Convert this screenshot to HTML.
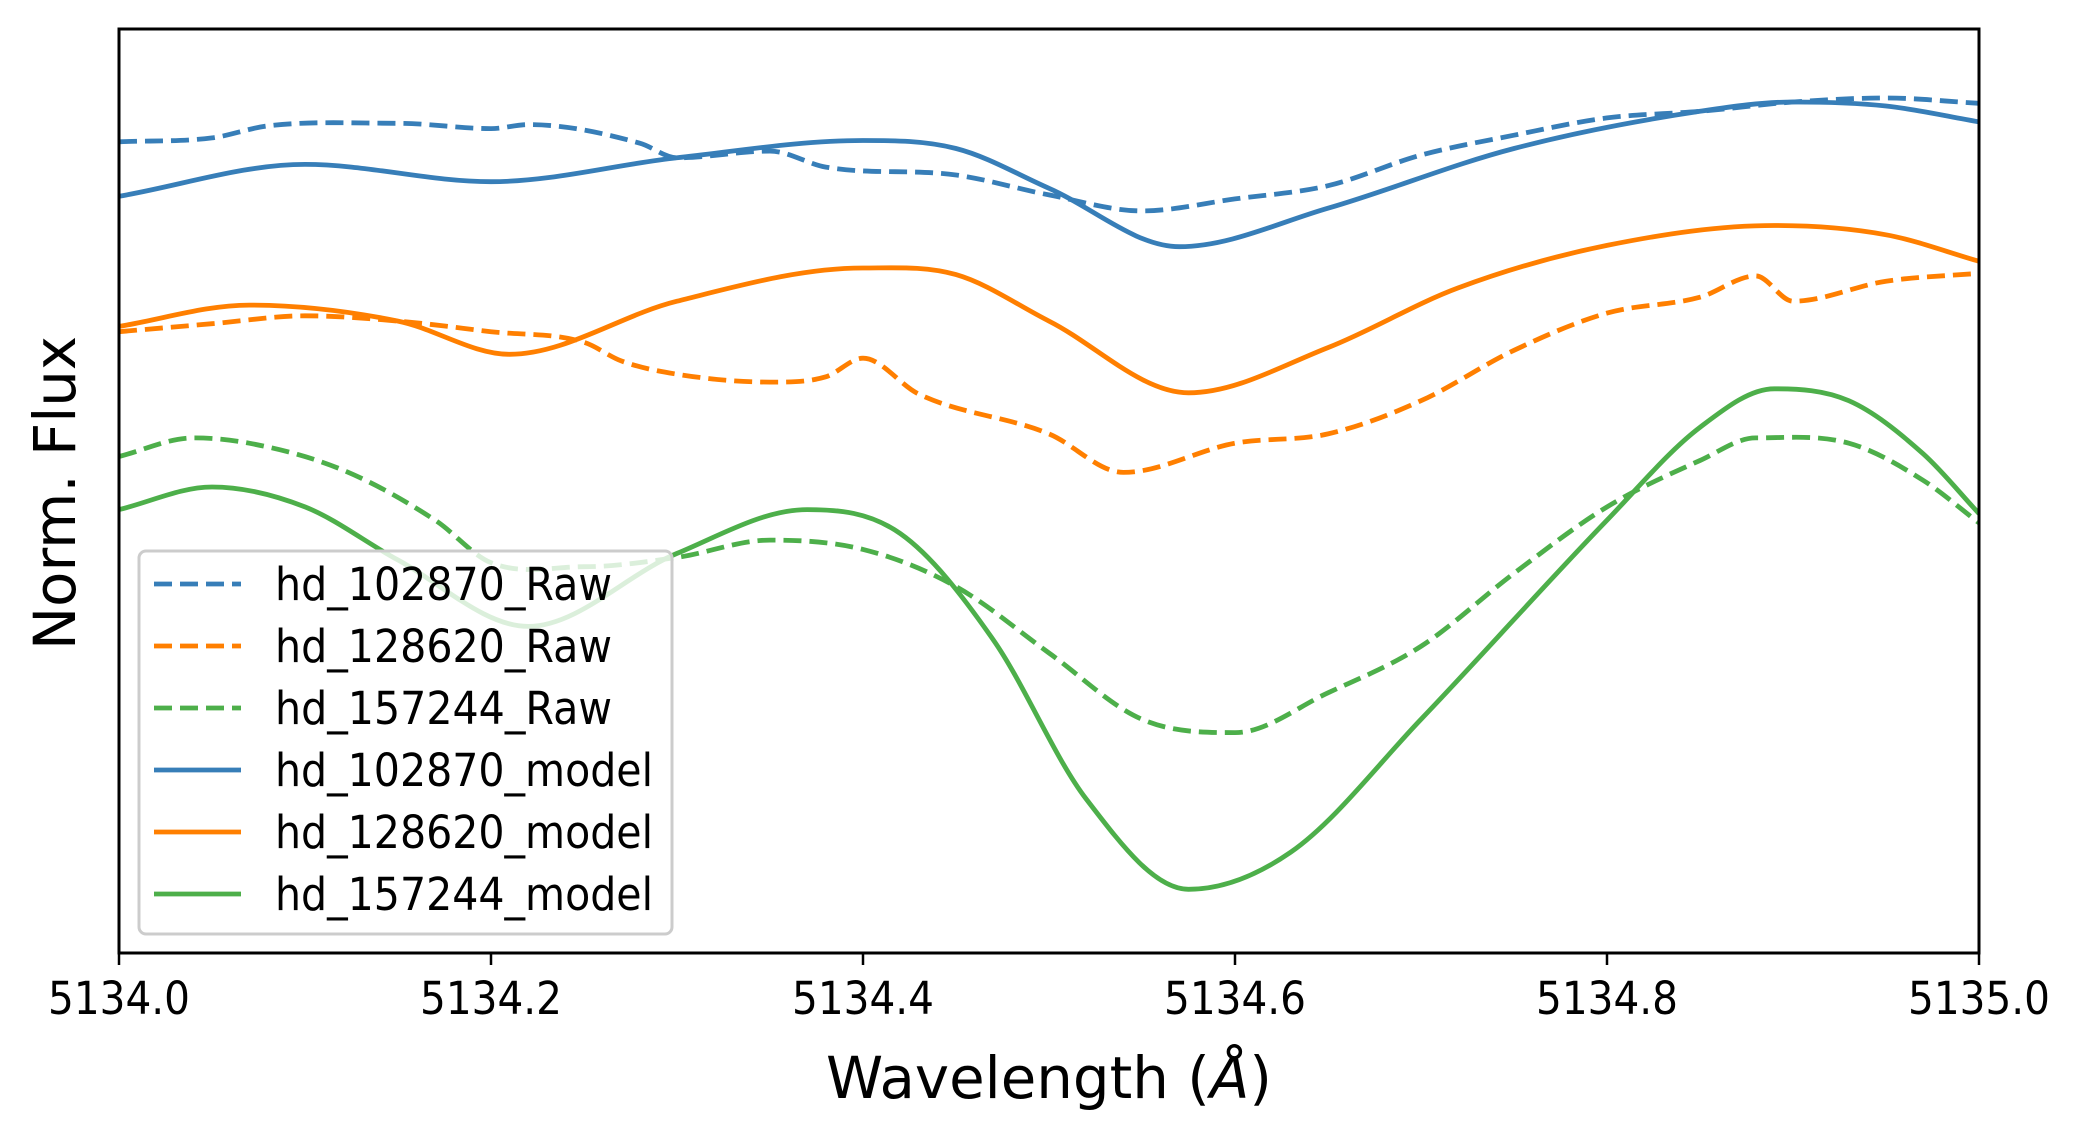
<!DOCTYPE html>
<html><head><meta charset="utf-8"><style>
html,body{margin:0;padding:0;background:#fff;}
svg{display:block;}
text{font-family:"DejaVu Sans","Liberation Sans",sans-serif;fill:#000;}
</style></head>
<body>
<svg id="chart" width="2081" height="1140" viewBox="0 0 2081 1140" xmlns="http://www.w3.org/2000/svg">
<rect x="0" y="0" width="2081" height="1140" fill="#fff"/>
<g id="series"></g>
<g id="legend"></g>
<g id="axes"></g>
</svg>
<script>
// ---- data ----
const blueRawX = [5134.0,5134.05,5134.08,5134.15,5134.2,5134.22,5134.28,5134.3,5134.35,5134.38,5134.45,5134.5,5134.55,5134.6,5134.65,5134.7,5134.75,5134.8,5134.85,5134.9,5134.95,5135.0];
const blueRawY = [6.11,6.14,6.23,6.25,6.21,6.24,6.10,5.99,6.04,5.92,5.86,5.71,5.59,5.68,5.78,6.01,6.16,6.29,6.34,6.41,6.44,6.40];
const blueModelX = [5134.0,5134.1,5134.2,5134.3,5134.4,5134.45,5134.5,5134.57,5134.65,5134.75,5134.85,5134.9,5134.95,5135.0];
const blueModelY = [5.70,5.94,5.81,5.99,6.12,6.06,5.76,5.32,5.61,6.06,6.34,6.41,6.38,6.26];
const orangeRawX = [5134.0,5134.05,5134.1,5134.15,5134.2,5134.25,5134.27,5134.3,5134.35,5134.38,5134.4,5134.43,5134.5,5134.54,5134.6,5134.65,5134.7,5134.75,5134.8,5134.85,5134.88,5134.9,5134.95,5135.0];
const orangeRawY = [4.68,4.74,4.80,4.76,4.68,4.60,4.46,4.36,4.30,4.34,4.48,4.21,3.91,3.62,3.84,3.91,4.16,4.54,4.82,4.94,5.10,4.91,5.06,5.12];
const orangeModelX = [5134.0,5134.07,5134.15,5134.21,5134.3,5134.4,5134.45,5134.5,5134.575,5134.65,5134.72,5134.8,5134.89,5134.95,5135.0];
const orangeModelY = [4.72,4.88,4.76,4.51,4.91,5.16,5.11,4.76,4.22,4.56,5.01,5.33,5.48,5.41,5.21];
const greenRawX = [5134.0,5134.04,5134.07,5134.12,5134.17,5134.2,5134.25,5134.3,5134.35,5134.4,5134.45,5134.5,5134.55,5134.6,5134.65,5134.7,5134.75,5134.8,5134.85,5134.88,5134.93,5134.97,5135.0];
const greenRawY = [3.74,3.88,3.84,3.64,3.26,2.94,2.91,2.98,3.11,3.04,2.76,2.26,1.76,1.66,1.96,2.31,2.86,3.36,3.71,3.88,3.84,3.56,3.24];
const greenModelX = [5134.0,5134.05,5134.1,5134.15,5134.22,5134.3,5134.37,5134.42,5134.47,5134.52,5134.575,5134.63,5134.7,5134.8,5134.85,5134.89,5134.93,5134.97,5135.0];
const greenModelY = [3.34,3.51,3.36,2.96,2.46,3.01,3.34,3.16,2.36,1.16,0.48,0.76,1.76,3.26,3.96,4.25,4.16,3.76,3.31];
const xTicks = [5134.0,5134.2,5134.4,5134.6,5134.8,5135.0];
const xTickLabels = ["5134.0","5134.2","5134.4","5134.6","5134.8","5135.0"];
const legendLabels = ["hd_102870_Raw","hd_128620_Raw","hd_157244_Raw","hd_102870_model","hd_128620_model","hd_157244_model"];

// ---- layout ----
const L=119,R=1979,T=29,B=953;
const xMin=5134.0,xMax=5135.0,yMin=0,yMax=6.96;
const xs=v=>L+(v-xMin)/(xMax-xMin)*(R-L);
const ys=v=>B-(v-yMin)/(yMax-yMin)*(B-T);
const NS="http://www.w3.org/2000/svg";
const C={blue:"#377eb8",orange:"#ff7f00",green:"#4daf4a"};
function mk(tag,attrs,parent){const e=document.createElementNS(NS,tag);for(const k in attrs)e.setAttribute(k,attrs[k]);parent.appendChild(e);return e;}
function smoothPath(X,Y){
  const p=X.map((x,i)=>[xs(x),ys(Y[i])]);
  const n=p.length;
  // monotone-ish tangents based on neighbouring secants (Fritsch-Carlson style)
  const m=new Array(n);
  for(let i=0;i<n;i++){
    if(i===0)m[i]=(p[1][1]-p[0][1])/(p[1][0]-p[0][0]);
    else if(i===n-1)m[i]=(p[i][1]-p[i-1][1])/(p[i][0]-p[i-1][0]);
    else{
      const s0=(p[i][1]-p[i-1][1])/(p[i][0]-p[i-1][0]);
      const s1=(p[i+1][1]-p[i][1])/(p[i+1][0]-p[i][0]);
      m[i]=(s0*s1<=0)?0:(s0+s1)/2;
    }
  }
  let d="M"+p[0][0].toFixed(1)+","+p[0][1].toFixed(1);
  for(let i=0;i<n-1;i++){
    const h=(p[i+1][0]-p[i][0])/3;
    d+="C"+(p[i][0]+h).toFixed(1)+","+(p[i][1]+m[i]*h).toFixed(1)+" "+(p[i+1][0]-h).toFixed(1)+","+(p[i+1][1]-m[i+1]*h).toFixed(1)+" "+p[i+1][0].toFixed(1)+","+p[i+1][1].toFixed(1);
  }
  return d;
}
const svg=document.getElementById("chart");
const gS=document.getElementById("series");
const defs=mk("defs",{},svg);
const cp=mk("clipPath",{id:"clip"},defs);
mk("rect",{x:L,y:T,width:R-L,height:B-T},cp);
gS.setAttribute("clip-path","url(#clip)");
const dash="18 8";
const SW=4.8;
let e;
e=mk("path",{d:smoothPath(blueRawX,blueRawY),fill:"none",stroke:C.blue,"stroke-width":SW,"stroke-dasharray":dash},gS);


e=mk("path",{d:smoothPath(orangeRawX,orangeRawY),fill:"none",stroke:C.orange,"stroke-width":SW,"stroke-dasharray":dash},gS);


e=mk("path",{d:smoothPath(greenRawX,greenRawY),fill:"none",stroke:C.green,"stroke-width":SW,"stroke-dasharray":dash},gS);


e=mk("path",{d:smoothPath(blueModelX,blueModelY),fill:"none",stroke:C.blue,"stroke-width":SW},gS);


e=mk("path",{d:smoothPath(orangeModelX,orangeModelY),fill:"none",stroke:C.orange,"stroke-width":SW},gS);


e=mk("path",{d:smoothPath(greenModelX,greenModelY),fill:"none",stroke:C.green,"stroke-width":SW},gS);



// legend
const gL=document.getElementById("legend");
e=mk("rect",{x:139,y:551,width:533,height:383,rx:7,fill:"rgba(255,255,255,0.8)",stroke:"#cccccc","stroke-width":3},gL);


const lColors=[C.blue,C.orange,C.green,C.blue,C.orange,C.green];
const rowY=[584,646,708,770,832,894];
legendLabels.forEach((lab,i)=>{
  const g=mk("g",{},gL);
  
  
  const a={x1:154,x2:241,y1:rowY[i],y2:rowY[i],stroke:lColors[i],"stroke-width":SW};
  if(i<3)a["stroke-dasharray"]=dash;
  mk("line",a,g);
  const t=mk("text",{x:275,y:rowY[i]+16,"font-size":45,textLength:(i<3?337:378),lengthAdjust:"spacingAndGlyphs"},g);
  t.textContent=lab;
});

// axes
const gA=document.getElementById("axes");
e=mk("rect",{x:L,y:T,width:R-L,height:B-T,fill:"none",stroke:"#000","stroke-width":3},gA);


xTicks.forEach((v,i)=>{
  e=mk("line",{x1:xs(v),x2:xs(v),y1:B,y2:B+12,stroke:"#000","stroke-width":2.5},gA);
  
  
  const t=mk("text",{x:xs(v),y:1014,"text-anchor":"middle","font-size":45,textLength:142,lengthAdjust:"spacingAndGlyphs"},gA);
  t.textContent=xTickLabels[i];
  
  
});
const xl=mk("text",{x:1049,y:1098,"text-anchor":"middle","font-size":58,textLength:446,lengthAdjust:"spacingAndGlyphs"},gA);
xl.innerHTML='Wavelength (<tspan font-style="italic">Å</tspan>)';


const yl=mk("text",{x:0,y:0,"text-anchor":"middle","font-size":58,textLength:314,lengthAdjust:"spacingAndGlyphs",transform:"translate(75,493) rotate(-90)"},gA);
yl.textContent="Norm. Flux";


</script>
</body></html>
